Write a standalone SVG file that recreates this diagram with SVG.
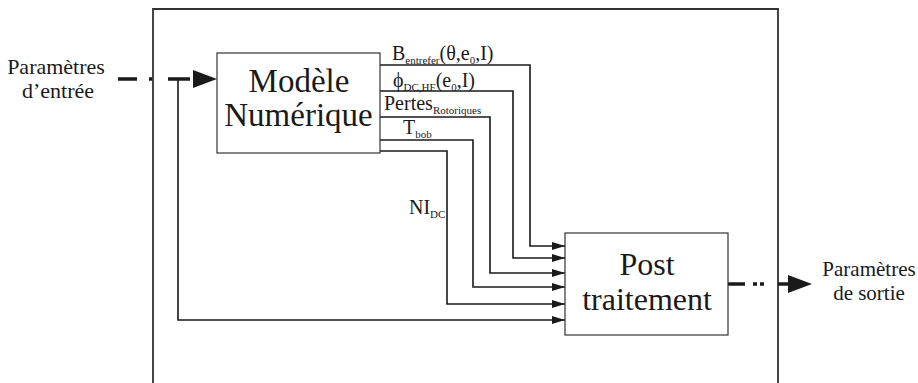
<svg xmlns="http://www.w3.org/2000/svg" width="918" height="383" viewBox="0 0 918 383">
<style>
text{font-family:"Liberation Serif","Times New Roman","DejaVu Serif",serif;fill:#1a1a1a}
.box{fill:#fff;stroke:#333;stroke-width:1.2}
.con{fill:none;stroke:#1a1a1a;stroke-width:1.6}
.thick{fill:none;stroke:#1a1a1a;stroke-width:3.5}
.lbl{font-size:20px}
.sub{font-size:11px}
</style>
<defs>
<marker id="arr" markerUnits="userSpaceOnUse" markerWidth="14" markerHeight="10" refX="13" refY="4" orient="auto">
<path d="M0,0 L13,4 L0,8 z" fill="#1a1a1a"/>
</marker>
</defs>
<g id="frame">
<path d="M153,383 V9 H778 V383" fill="none" stroke="#333" stroke-width="1.8"/>
</g>
<g id="connectors">
<path class="con" d="M380,65 H530 V246 H565" marker-end="url(#arr)"/>
<path class="con" d="M380,91 H513 V258 H565" marker-end="url(#arr)"/>
<path class="con" d="M380,117 H490 V273 H565" marker-end="url(#arr)"/>
<path class="con" d="M380,140 H473 V287 H565" marker-end="url(#arr)"/>
<path class="con" d="M380,151 H447 V304 H565" marker-end="url(#arr)"/>
<path class="con" d="M178,79 V320 H565" marker-end="url(#arr)"/>
<path class="thick" d="M118,79 H137 M149,79 H152 M168,79 H190"/>
<polygon points="193,70 217,79 193,88" fill="#1a1a1a"/>
<path class="thick" d="M728,284 H745 M753,284 H757 M760,284 H764 M778,284 H790"/>
<polygon points="788,275 812,284 788,293" fill="#1a1a1a"/>
</g>
<g id="input" font-family="Liberation Serif, serif">
<text x="56" y="74" font-size="22" text-anchor="middle">Paramètres</text>
<text x="58" y="98" font-size="22" text-anchor="middle">d’entrée</text>
</g>
<g id="output" font-family="Liberation Serif, serif">
<text x="869" y="276" font-size="21" text-anchor="middle">Paramètres</text>
<text x="869" y="300" font-size="21" text-anchor="middle">de sortie</text>
</g>
<g id="modele" font-family="Liberation Serif, serif">
<rect class="box" x="217" y="53" width="163" height="100"/>
<text x="299" y="92" font-size="33" text-anchor="middle">Modèle</text>
<text x="298.5" y="126" font-size="33" text-anchor="middle">Numérique</text>
</g>
<g id="post" font-family="Liberation Serif, serif">
<rect class="box" x="565" y="233" width="163" height="102"/>
<text x="647" y="275" font-size="32" text-anchor="middle">Post</text>
<text x="647" y="310" font-size="32" text-anchor="middle">traitement</text>
</g>
<g id="labels" font-family="Liberation Serif, serif">
<text class="lbl" x="392" y="60">B<tspan class="sub" dy="4">entrefer</tspan><tspan dy="-4">(θ,e</tspan><tspan class="sub" dy="4">0</tspan><tspan dy="-4">,I)</tspan></text>
<text class="lbl" x="393" y="87">ϕ<tspan class="sub" dy="4">DC,HF</tspan><tspan dy="-4">(e</tspan><tspan class="sub" dy="4">0</tspan><tspan dy="-4">,I)</tspan></text>
<text class="lbl" x="384" y="110">Pertes<tspan class="sub" dy="4">Rotoriques</tspan></text>
<text class="lbl" x="403" y="134">T<tspan class="sub" dy="4">bob</tspan></text>
<text class="lbl" x="409" y="214">NI<tspan class="sub" dy="4">DC</tspan></text>
</g>
</svg>
